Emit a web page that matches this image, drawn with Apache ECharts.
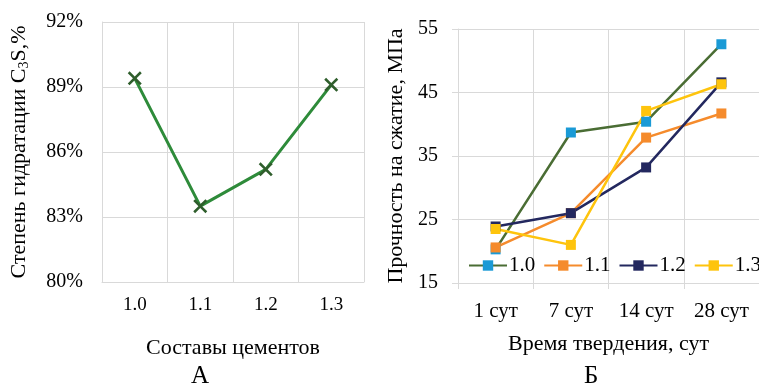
<!DOCTYPE html>
<html>
<head>
<meta charset="utf-8">
<script src="https://cdn.jsdelivr.net/npm/echarts@6/dist/echarts.min.js"></script>
<style>
  html, body { margin: 0; padding: 0; background: #fff; }
  #chart { width: 759px; height: 385px; }
</style>
</head>
<body>
<div id="chart"></div>
<script>
// chart A: degree of C3S hydration per cement
const cements = ['1.0', '1.1', '1.2', '1.3'];
const hydration = [89.4, 83.5, 85.2, 89.1];

// chart Б: compressive strength by curing time
const days = ['1 сут', '7 сут', '14 сут', '28 сут'];
const strength10 = [20.3, 38.7, 40.4, 52.6];
const strength11 = [20.6, 26.0, 37.9, 41.7];
const strength12 = [23.9, 26.0, 33.2, 46.6];
const strength13 = [23.5, 21.0, 42.1, 46.3];

const FONT = 'Liberation Serif';
const GRID_COLOR = '#d9d9d9';
const CROSS = 'path://M0,1.3L1.3,0L5,3.7L8.7,0L10,1.3L6.3,5L10,8.7L8.7,10L5,6.3L1.3,10L0,8.7L3.7,5Z';

const chart = echarts.init(document.getElementById('chart'), null, { renderer: 'canvas' });

function strengthSeries(name, data, lineColor, markColor) {
  return {
    type: 'line',
    name,
    xAxisIndex: 1,
    yAxisIndex: 1,
    data,
    symbol: 'rect',
    symbolSize: 10,
    lineStyle: { color: lineColor, width: 2.5 },
    itemStyle: { color: markColor },
    emphasis: { disabled: true },
  };
}

const option = {
  animation: false,
  textStyle: { fontFamily: FONT, color: '#000' },
  grid: [
    { left: 102, top: 22, width: 262, height: 260 },
    { left: 458, top: 29, width: 304, height: 254 },
  ],
  legend: {
    left: 463,
    top: 250,
    width: 340,
    itemWidth: 38,
    itemHeight: 13,
    itemGap: 8,
    textStyle: { fontFamily: FONT, fontSize: 21, color: '#000', padding: [0, 0, 0, -3] },
    data: ['1.0', '1.1', '1.2', '1.3'],
  },
  xAxis: [
    {
      type: 'category',
      gridIndex: 0,
      data: cements,
      name: 'Составы цементов',
      nameLocation: 'middle',
      nameGap: 55,
      nameTextStyle: { fontFamily: FONT, fontSize: 22, color: '#000' },
      axisLine: { lineStyle: { color: GRID_COLOR } },
      axisTick: { show: false },
      axisLabel: { fontFamily: FONT, fontSize: 19, color: '#000', margin: 14 },
      splitLine: { show: true, lineStyle: { color: GRID_COLOR } },
    },
    {
      type: 'category',
      gridIndex: 1,
      data: days,
      name: 'Время твердения, сут',
      nameLocation: 'middle',
      nameGap: 50,
      nameTextStyle: { fontFamily: FONT, fontSize: 22, color: '#000' },
      axisLine: { lineStyle: { color: GRID_COLOR } },
      axisTick: { show: true, length: 6, lineStyle: { color: GRID_COLOR } },
      axisLabel: { fontFamily: FONT, fontSize: 21, color: '#000', margin: 18 },
      splitLine: { show: true, lineStyle: { color: GRID_COLOR } },
    },
  ],
  yAxis: [
    {
      type: 'value',
      gridIndex: 0,
      min: 80,
      max: 92,
      interval: 3,
      name: 'Степень гидратации C{sub|3}S,%',
      nameLocation: 'middle',
      nameGap: 71,
      nameTextStyle: {
        fontFamily: FONT,
        fontSize: 22,
        color: '#000',
        rich: {
          sub: { fontFamily: FONT, fontSize: 14, color: '#000', verticalAlign: 'bottom', padding: [9, 0, 0, 0] },
        },
      },
      axisLine: { show: true, lineStyle: { color: GRID_COLOR } },
      axisTick: { show: false },
      axisLabel: { fontFamily: FONT, fontSize: 20, color: '#000', margin: 19, formatter: '{value}%' },
      splitLine: { lineStyle: { color: GRID_COLOR } },
    },
    {
      type: 'value',
      gridIndex: 1,
      min: 15,
      max: 55,
      interval: 10,
      name: 'Прочность на сжатие, МПа',
      nameLocation: 'middle',
      nameGap: 51,
      nameTextStyle: { fontFamily: FONT, fontSize: 22, color: '#000' },
      axisLine: { show: true, lineStyle: { color: GRID_COLOR } },
      axisTick: { show: true, length: 6, lineStyle: { color: GRID_COLOR } },
      axisLabel: { fontFamily: FONT, fontSize: 20, color: '#000', margin: 20 },
      splitLine: { lineStyle: { color: GRID_COLOR } },
    },
  ],
  series: [
    {
      type: 'line',
      name: 'C3S',
      xAxisIndex: 0,
      yAxisIndex: 0,
      data: hydration,
      symbol: CROSS,
      symbolSize: 14,
      lineStyle: { color: '#2e8b3a', width: 3 },
      itemStyle: { color: '#2f5e2c' },
      emphasis: { disabled: true },
    },
    strengthSeries('1.0', strength10, '#4a6d34', '#1a9ad6'),
    strengthSeries('1.1', strength11, '#f58b2c', '#f58b2c'),
    strengthSeries('1.2', strength12, '#23285f', '#23285f'),
    strengthSeries('1.3', strength13, '#fec40d', '#fec40d'),
  ],
  graphic: [
    {
      type: 'text',
      left: 191,
      top: 364,
      style: { text: 'А', font: '25px "Liberation Serif"', fill: '#000' },
    },
    {
      type: 'text',
      left: 584,
      top: 364,
      style: { text: 'Б', font: '25px "Liberation Serif"', fill: '#000' },
    },
  ],
};

chart.setOption(option);
</script>
</body>
</html>
